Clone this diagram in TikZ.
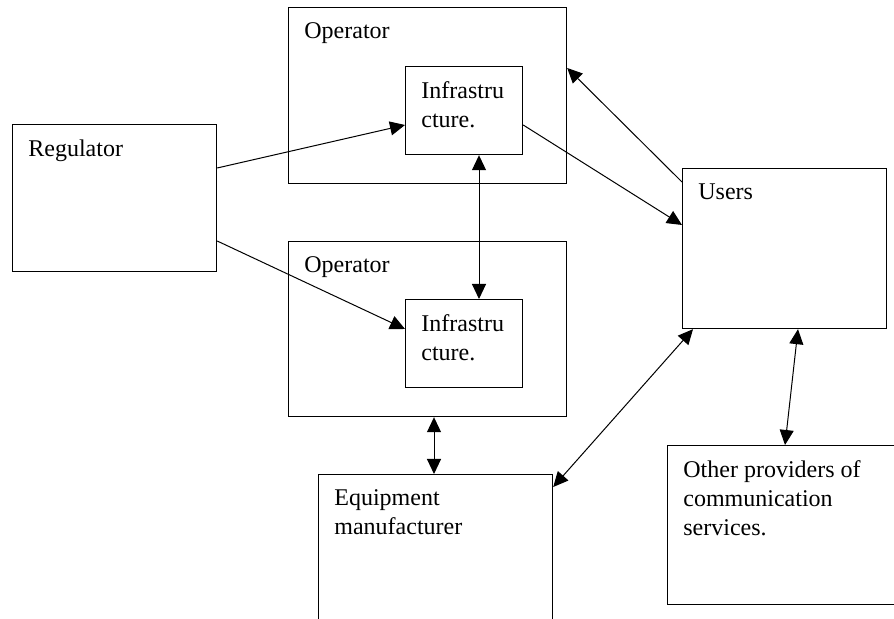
\documentclass[tikz,border=0pt]{standalone}
\usepackage{fontspec}
\setmainfont{Liberation Serif}
\usepackage{tikz}
\usetikzlibrary{positioning,calc,arrows.meta}

\tikzset{
  box/.style={draw, line width=0.6pt, anchor=north west, inner sep=0pt},
  lbl/.style={anchor=north west, inner sep=0pt, align=left,
    font=\fontsize{12}{14.5}\selectfont, xshift=8pt, yshift=-7.5pt},
  link/.style={line width=0.5pt, -{Triangle[length=7.5pt,width=7pt]}},
  twoway/.style={line width=0.5pt, {Triangle[length=7.5pt,width=7pt]}-{Triangle[length=7.5pt,width=7pt]}}
}

\begin{document}
\begin{tikzpicture}[x=0.5pt, y=-0.5pt]
    \useasboundingbox (0,0) rectangle (894,619);
    \clip (0,0) rectangle (894,619);

    % boxes
    \node[box, minimum width=102pt, minimum height=73.5pt, label={[lbl]north west:Regulator}] (reg) at (12,124) {};
    \node[box, minimum width=139pt, minimum height=88pt, label={[lbl]north west:Operator}] (op1) at (288,7) {};
    \node[box, minimum width=58.5pt, minimum height=44pt, label={[lbl]north west:{Infrastru\\cture.}}] (inf1) at (405,66) {};
    \node[box, minimum width=139pt, minimum height=87.5pt, label={[lbl]north west:Operator}] (op2) at (288,241) {};
    \node[box, minimum width=58.5pt, minimum height=44pt, label={[lbl]north west:{Infrastru\\cture.}}] (inf2) at (405,299) {};
    \node[box, minimum width=102pt, minimum height=80pt, label={[lbl]north west:Users}] (users) at (682,168) {};
    \node[box, minimum width=117pt, minimum height=90pt, label={[lbl]north west:{Equipment\\manufacturer}}] (equip) at (318,474) {};
    \node[box, minimum width=125pt, minimum height=79.5pt, label={[lbl]north west:{Other providers of\\communication\\services.}}] (other) at (667,445) {};

    % connectors
    \draw[link] ($(reg.north east)+(0,44)$) -- ($(inf1.north west)+(0,59)$);
    \draw[link] ($(reg.north east)+(0,117)$) -- ($(inf2.north west)+(0,30)$);
    \draw[link] ($(inf1.north east)+(0,59)$) -- ($(users.north west)+(0,57)$);
    \draw[link] ($(users.north west)+(0,14)$) -- ($(op1.north east)+(0,61)$);
    \draw[twoway] ($(inf1.south west)+(74,0)$) -- ($(inf2.north west)+(74,0)$);
    \draw[twoway] ($(op2.south west)+(146,0)$) -- ($(equip.north west)+(116,0)$);
    \draw[twoway] ($(users.south west)+(11,0)$) -- ($(equip.north east)+(0,13)$);
    \draw[twoway] ($(users.south west)+(116,0)$) -- ($(other.north west)+(118,0)$);
\end{tikzpicture}
\end{document}
